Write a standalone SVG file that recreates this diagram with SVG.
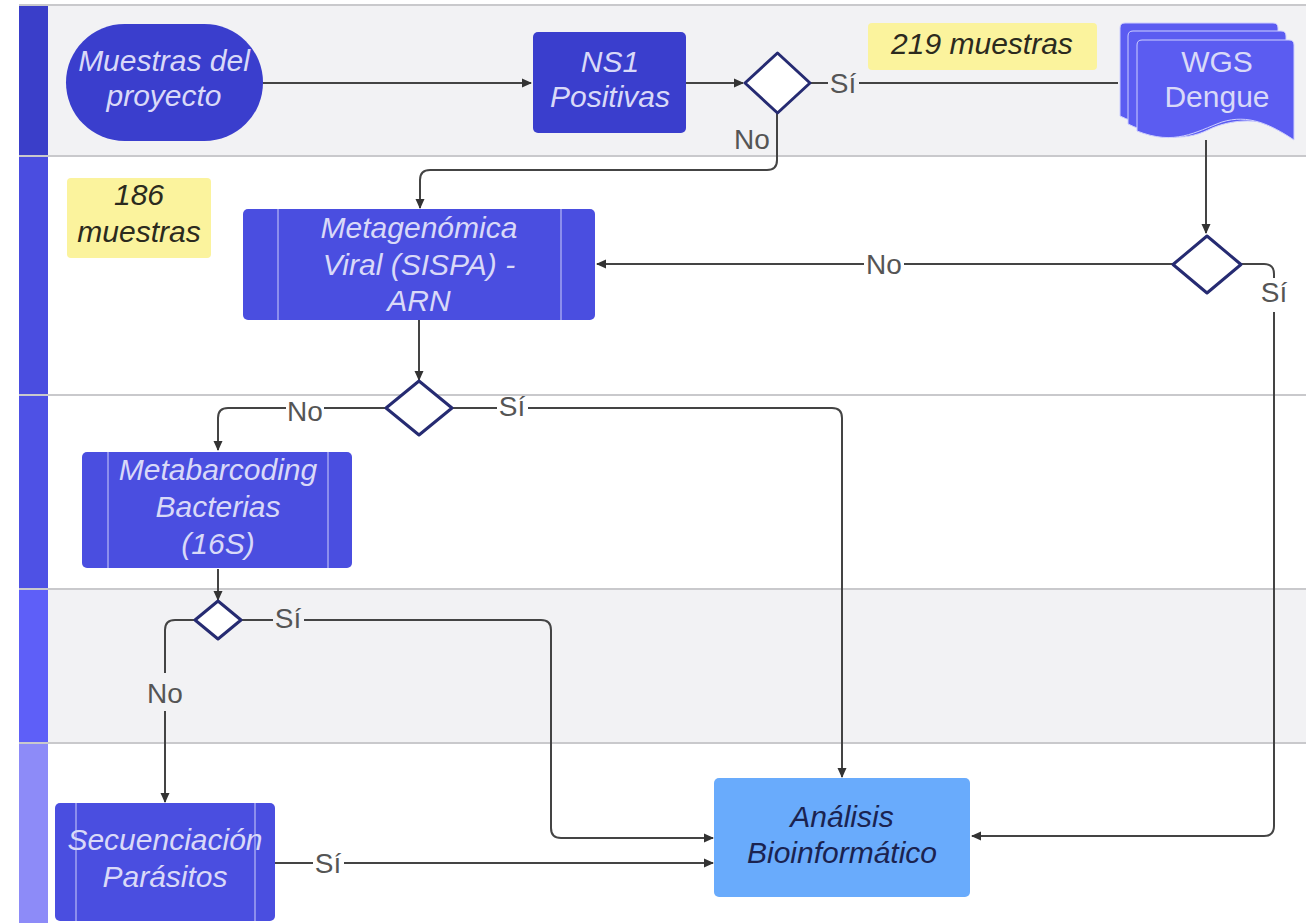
<svg xmlns="http://www.w3.org/2000/svg" width="1306" height="923" viewBox="0 0 1306 923">
<defs>
<marker id="arr" viewBox="0 0 10 10" refX="9" refY="5" markerWidth="10" markerHeight="10" markerUnits="userSpaceOnUse" orient="auto">
<path d="M0,0.5 L10,5 L0,9.5 z" fill="#333"/>
</marker>
<style>
.lane-g{fill:#f2f2f4}
.lane-w{fill:#ffffff}
.sep{stroke:#c9c9cc;stroke-width:2;fill:none}
.proc{stroke:none}
.inner{stroke:#b9baf5;stroke-width:1.2}
.t{font-family:"Liberation Sans",Arial,sans-serif;font-size:30px;text-anchor:middle}
.ti{font-style:italic}
.light{fill:#d9d9f8}
.dark{fill:#2b2a1e}
.navy{fill:#1b2350}
.dia{fill:#ffffff;stroke:#262b72;stroke-width:3;stroke-linejoin:round}
.con{fill:none;stroke:#444;stroke-width:2}
.lbl{font-family:"Liberation Sans",Arial,sans-serif;font-size:28px;fill:#555;text-anchor:middle}
</style>
</defs>

<g id="lanes">
<rect x="0" y="0" width="1306" height="923" fill="#ffffff"/>
<rect class="lane-g" x="48" y="5" width="1258" height="151"/>
<rect class="lane-w" x="48" y="156" width="1258" height="239"/>
<rect class="lane-w" x="48" y="395" width="1258" height="194"/>
<rect class="lane-g" x="48" y="589" width="1258" height="154"/>
<rect class="lane-w" x="48" y="743" width="1258" height="180"/>
<rect x="19" y="5" width="29" height="151" fill="#3a3ec9"/>
<rect x="19" y="156" width="29" height="239" fill="#4a4de0"/>
<rect x="19" y="395" width="29" height="194" fill="#4e51e5"/>
<rect x="19" y="589" width="29" height="154" fill="#5e5ff8"/>
<rect x="19" y="743" width="29" height="180" fill="#8d8bf8"/>
<line class="sep" x1="19" y1="5" x2="1306" y2="5"/>
<line class="sep" x1="19" y1="156" x2="1306" y2="156"/>
<line class="sep" x1="19" y1="395" x2="1306" y2="395"/>
<line class="sep" x1="19" y1="589" x2="1306" y2="589"/>
<line class="sep" x1="19" y1="743" x2="1306" y2="743"/>
</g>

<g id="connectors">
<path class="con" d="M263,83 H531" marker-end="url(#arr)"/>
<path class="con" d="M686,83 H743" marker-end="url(#arr)"/>
<path class="con" d="M810,83 H828 M859,83 H1118"/>
<path class="con" d="M777,113 V160 Q777,170 767,170 H430 Q420,170 420,180 V208" marker-end="url(#arr)"/>
<path class="con" d="M1206,140 V233" marker-end="url(#arr)"/>
<path class="con" d="M1173,264 H904 M864,264 H597" marker-end="url(#arr)"/>
<path class="con" d="M1241,264 H1264 Q1274,264 1274,274 V278 M1274,312 V826 Q1274,836 1264,836 H972" marker-end="url(#arr)"/>
<path class="con" d="M419,320 V380" marker-end="url(#arr)"/>
<path class="con" d="M386,408 H324 M286,408 H228 Q218,408 218,418 V450" marker-end="url(#arr)"/>
<path class="con" d="M452,408 H497 M528,408 H832 Q842,408 842,418 V777" marker-end="url(#arr)"/>
<path class="con" d="M218,569 V600" marker-end="url(#arr)"/>
<path class="con" d="M241,620 H273 M304,620 H541 Q551,620 551,630 V828 Q551,838 561,838 H713" marker-end="url(#arr)"/>
<path class="con" d="M195,620 H175 Q165,620 165,630 V673 M165,711 V802" marker-end="url(#arr)"/>
<path class="con" d="M275,863 H313 M344,863 H713" marker-end="url(#arr)"/>
<text class="lbl" x="843" y="93">Sí</text>
<text class="lbl" x="752" y="149">No</text>
<text class="lbl" x="884" y="274">No</text>
<text class="lbl" x="1274" y="302">Sí</text>
<text class="lbl" x="305" y="421">No</text>
<text class="lbl" x="512" y="416">Sí</text>
<text class="lbl" x="288" y="628">Sí</text>
<text class="lbl" x="165" y="703">No</text>
<text class="lbl" x="328" y="873">Sí</text>
</g>

<g id="muestras-proyecto">
<rect x="66" y="24" width="197" height="117" rx="58.5" fill="#3a3ecd"/>
<text class="t ti light" x="164" y="71">Muestras del</text>
<text class="t ti light" x="164" y="106">proyecto</text>
</g>

<g id="ns1-positivas">
<rect x="533" y="32" width="153" height="101" rx="5" fill="#3a3ecd"/>
<text class="t ti light" x="610" y="72">NS1</text>
<text class="t ti light" x="610" y="107">Positivas</text>
</g>

<g id="decision-ns1">
<path class="dia" d="M777.5,53 L810,83 L777.5,113 L745,83 Z"/>
</g>

<g id="nota-219">
<rect x="868" y="23" width="229" height="47" rx="4" fill="#fbf39d"/>
<text class="t ti dark" x="982" y="54">219 muestras</text>
</g>

<g id="wgs-dengue">
<path d="M1125,23 H1273 Q1278,23 1278,28 V122 C1250,108 1220,112 1200,122 C1175,134 1150,130 1120,116 V28 Q1120,23 1125,23 Z" fill="#5b5cf1" stroke="#cfd0ff" stroke-width="1"/>
<path d="M1133,31 H1281 Q1286,31 1286,36 V130 C1258,116 1228,120 1208,130 C1183,142 1158,138 1128,124 V36 Q1128,31 1133,31 Z" fill="#5b5cf1" stroke="#cfd0ff" stroke-width="1"/>
<path d="M1142,40 H1289 Q1294,40 1294,45 V140 C1270,124 1248,114 1222,122 C1195,132 1175,146 1137,131 V45 Q1137,40 1142,40 Z" fill="#5b5cf1" stroke="#cfd0ff" stroke-width="1"/>
<text class="t light" x="1217" y="72">WGS</text>
<text class="t light" x="1217" y="107">Dengue</text>
</g>

<g id="decision-wgs">
<path class="dia" d="M1207,236 L1241,264.5 L1207,293 L1173,264.5 Z"/>
</g>

<g id="nota-186">
<rect x="67" y="178" width="144" height="80" rx="4" fill="#fbf39d"/>
<text class="t ti dark" x="139" y="205">186</text>
<text class="t ti dark" x="139" y="242">muestras</text>
</g>

<g id="metagenomica">
<rect class="proc" x="243" y="209" width="352" height="111" rx="5" fill="#4a4ee0"/>
<line class="inner" x1="278" y1="209" x2="278" y2="320"/>
<line class="inner" x1="561" y1="209" x2="561" y2="320"/>
<text class="t ti light" x="419" y="238">Metagenómica</text>
<text class="t ti light" x="419" y="275">Viral (SISPA) -</text>
<text class="t ti light" x="419" y="311">ARN</text>
</g>

<g id="decision-meta">
<path class="dia" d="M419,381 L452,408 L419,435 L386,408 Z"/>
</g>

<g id="metabarcoding">
<rect class="proc" x="82" y="452" width="270" height="116" rx="5" fill="#4a4ee0"/>
<line class="inner" x1="108" y1="452" x2="108" y2="568"/>
<line class="inner" x1="328" y1="452" x2="328" y2="568"/>
<text class="t ti light" x="218" y="480">Metabarcoding</text>
<text class="t ti light" x="218" y="517">Bacterias</text>
<text class="t ti light" x="218" y="554">(16S)</text>
</g>

<g id="decision-16s">
<path class="dia" d="M218,601 L241,620 L218,639 L195,620 Z"/>
</g>

<g id="secuenciacion">
<rect class="proc" x="55" y="803" width="220" height="118" rx="5" fill="#4a4ee0"/>
<line class="inner" x1="76" y1="803" x2="76" y2="921"/>
<line class="inner" x1="255" y1="803" x2="255" y2="921"/>
<text class="t ti light" x="165" y="850">Secuenciación</text>
<text class="t ti light" x="165" y="887">Parásitos</text>
</g>

<g id="analisis">
<rect x="714" y="778" width="256" height="119" rx="5" fill="#69abfc"/>
<text class="t ti navy" x="842" y="827">Análisis</text>
<text class="t ti navy" x="842" y="863">Bioinformático</text>
</g>
</svg>
